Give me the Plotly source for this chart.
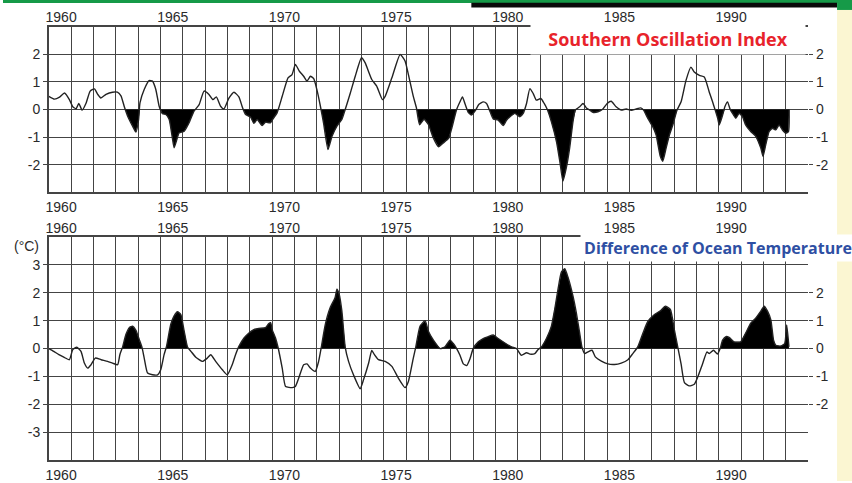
import numpy as np
import plotly.graph_objects as go

# ---------------- data ----------------
soi_years = [1960.0, 1960.25, 1960.48, 1960.7, 1960.92, 1961.07, 1961.22, 1961.34, 1961.49, 1961.67,
             1961.85, 1962.04, 1962.19, 1962.33, 1962.56, 1962.85, 1963.07, 1963.23, 1963.38, 1963.53,
             1963.75, 1963.9, 1964.02, 1964.08, 1964.27, 1964.49, 1964.64, 1964.79, 1964.94, 1965.09,
             1965.24, 1965.39, 1965.53, 1965.61, 1965.71, 1965.83, 1966.06, 1966.28, 1966.5, 1966.73,
             1966.95, 1967.17, 1967.35, 1967.5, 1967.69, 1967.84, 1968.07, 1968.29, 1968.51, 1968.66,
             1968.81, 1969.03, 1969.18, 1969.33, 1969.55, 1969.7, 1969.92, 1970.07, 1970.22, 1970.45,
             1970.71, 1970.89, 1971.04, 1971.22, 1971.41, 1971.56, 1971.71, 1971.86, 1972.0, 1972.16,
             1972.3, 1972.5, 1972.68, 1972.9, 1973.12, 1973.27, 1973.5, 1973.72, 1974.0, 1974.16,
             1974.46, 1974.68, 1974.94, 1975.06, 1975.36, 1975.73, 1975.95, 1976.1, 1976.32, 1976.46,
             1976.6, 1976.8, 1977.0, 1977.2, 1977.45, 1977.65, 1977.9, 1978.05, 1978.26, 1978.41,
             1978.52, 1978.63, 1978.78, 1978.93, 1979.08, 1979.26, 1979.45, 1979.6, 1979.75, 1979.9,
             1980.12, 1980.35, 1980.5, 1980.65, 1980.87, 1981.09, 1981.24, 1981.39, 1981.54, 1981.69,
             1981.83, 1982.03, 1982.18, 1982.33, 1982.5, 1982.73, 1982.88, 1983.02, 1983.17, 1983.32,
             1983.47, 1983.57, 1983.77, 1983.92, 1984.07, 1984.22, 1984.36, 1984.59, 1984.81, 1985.0,
             1985.18, 1985.4, 1985.63, 1985.85, 1986.08, 1986.3, 1986.5, 1986.63, 1986.82, 1987.04,
             1987.19, 1987.38, 1987.49, 1987.64, 1987.79, 1987.94, 1988.13, 1988.31, 1988.53, 1988.75,
             1988.9, 1989.13, 1989.35, 1989.57, 1989.72, 1989.83, 1989.95, 1990.02, 1990.17, 1990.27,
             1990.39, 1990.51, 1990.66, 1990.76, 1990.91, 1991.06, 1991.2, 1991.43, 1991.66, 1991.88,
             1991.98, 1992.1, 1992.25, 1992.4, 1992.55, 1992.7, 1992.85, 1993.0, 1993.12, 1993.15]
soi_values = [0.48, 0.38, 0.45, 0.6, 0.36, 0.1, 0.03, 0.22, -0.02, 0.24,
              0.67, 0.75, 0.55, 0.42, 0.55, 0.63, 0.63, 0.5, 0.1, -0.24,
              -0.6, -0.82, -0.36, 0.24, 0.73, 1.05, 1.03, 0.73, 0.12, -0.15,
              -0.18, -0.36, -1.03, -1.39, -1.15, -0.85, -0.79, -0.48, -0.06, 0.18,
              0.67, 0.55, 0.36, 0.46, 0.12, 0.02, 0.42, 0.63, 0.46, 0.1,
              -0.18, -0.27, -0.5, -0.36, -0.58, -0.46, -0.48, -0.3, -0.12, 0.48,
              1.15, 1.27, 1.64, 1.39, 1.21, 1.03, 1.21, 1.12, 0.73, 0.12,
              -0.48, -1.45, -0.97, -0.6, -0.36, 0.0, 0.6, 1.21, 1.88, 1.7,
              1.09, 0.85, 0.36, 0.48, 1.15, 2.0, 1.76, 1.27, 0.48, 0.06,
              -0.55, -0.35, -0.55, -1.0, -1.35, -1.22, -1.05, -0.65, 0.0, 0.28,
              0.46, 0.22, -0.1, -0.2, -0.06, 0.19, 0.28, 0.22, -0.06, -0.34,
              -0.38, -0.58, -0.38, -0.26, -0.14, -0.26, -0.14, 0.22, 0.76, 0.58,
              0.34, 0.4, 0.22, -0.02, -0.44, -1.16, -1.88, -2.6, -2.12, -1.4,
              -0.44, -0.02, 0.1, 0.22, 0.06, -0.02, -0.1, -0.08, 0.02, 0.22,
              0.3, 0.1, -0.02, 0.02, -0.03, 0.02, 0.06, -0.02, -0.32, -0.62,
              -0.92, -1.7, -1.88, -1.4, -0.92, -0.56, -0.02, 0.28, 1.06, 1.54,
              1.36, 1.24, 1.18, 0.64, 0.28, 0.0, -0.32, -0.56, -0.2, 0.1,
              0.28, 0.0, -0.2, -0.32, -0.14, -0.26, -0.56, -0.8, -0.98, -1.4,
              -1.7, -1.28, -0.8, -0.68, -0.74, -0.56, -0.74, -0.86, -0.8, 0.0]

sst_years = [1960.0, 1960.22, 1960.45, 1960.67, 1960.92, 1961.07, 1961.25, 1961.44, 1961.59, 1961.74,
             1961.89, 1962.08, 1962.34, 1962.63, 1962.85, 1963.08, 1963.18, 1963.3, 1963.45, 1963.6,
             1963.75, 1963.9, 1964.05, 1964.17, 1964.27, 1964.42, 1964.64, 1964.87, 1965.01, 1965.16,
             1965.27, 1965.46, 1965.61, 1965.76, 1965.91, 1966.06, 1966.21, 1966.36, 1966.58, 1966.88,
             1967.1, 1967.25, 1967.47, 1967.77, 1967.99, 1968.21, 1968.36, 1968.51, 1968.74, 1968.96,
             1969.18, 1969.4, 1969.7, 1969.85, 1969.93, 1970.0, 1970.15, 1970.27, 1970.45, 1970.6,
             1970.9, 1971.04, 1971.19, 1971.41, 1971.56, 1971.71, 1971.93, 1972.08, 1972.2, 1972.38,
             1972.6, 1972.82, 1972.9, 1973.0, 1973.12, 1973.27, 1973.42, 1973.64, 1973.94, 1974.09,
             1974.32, 1974.46, 1974.58, 1974.76, 1975.06, 1975.36, 1975.65, 1975.95, 1976.1, 1976.32,
             1976.43, 1976.62, 1976.85, 1977.0, 1977.22, 1977.52, 1977.74, 1977.96, 1978.11, 1978.26,
             1978.41, 1978.56, 1978.71, 1978.86, 1979.0, 1979.23, 1979.45, 1979.68, 1979.9, 1980.12,
             1980.42, 1980.72, 1980.94, 1981.16, 1981.39, 1981.54, 1981.76, 1981.91, 1982.06, 1982.28,
             1982.5, 1982.65, 1982.8, 1982.95, 1983.1, 1983.25, 1983.47, 1983.62, 1983.77, 1983.87,
             1983.99, 1984.14, 1984.32, 1984.47, 1984.74, 1985.03, 1985.33, 1985.63, 1985.93, 1986.15,
             1986.37, 1986.6, 1986.82, 1987.12, 1987.41, 1987.6, 1987.83, 1988.01, 1988.16, 1988.31,
             1988.46, 1988.68, 1988.9, 1989.05, 1989.27, 1989.47, 1989.57, 1989.76, 1989.94, 1990.06,
             1990.17, 1990.32, 1990.46, 1990.68, 1990.98, 1991.2, 1991.43, 1991.66, 1991.88, 1992.03,
             1992.18, 1992.33, 1992.45, 1992.55, 1992.77, 1992.95, 1993.04, 1993.14]
sst_values = [0.0, -0.1, -0.22, -0.31, -0.4, -0.04, 0.05, -0.1, -0.52, -0.7,
              -0.58, -0.34, -0.4, -0.46, -0.52, -0.58, -0.22, 0.05, 0.5, 0.75,
              0.8, 0.65, 0.32, 0.05, -0.34, -0.88, -0.94, -0.94, -0.76, -0.22,
              0.08, 0.87, 1.17, 1.32, 1.22, 0.62, 0.05, -0.1, -0.31, -0.46,
              -0.34, -0.22, -0.46, -0.76, -0.94, -0.58, -0.22, 0.08, 0.38, 0.56,
              0.68, 0.72, 0.75, 0.9, 0.93, 0.68, 0.38, 0.02, -0.7, -1.36,
              -1.4, -1.36, -1.06, -0.58, -0.55, -0.7, -0.82, -0.46, 0.05, 0.87,
              1.47, 1.83, 2.13, 1.95, 1.35, 0.05, -0.46, -0.94, -1.44, -1.12,
              -0.52, -0.07, -0.22, -0.4, -0.46, -0.64, -1.06, -1.4, -1.18, -0.34,
              0.05, 0.8, 1.0, 0.61, 0.3, 0.0, 0.06, 0.3, 0.18, 0.0,
              -0.24, -0.55, -0.61, -0.36, 0.0, 0.24, 0.36, 0.43, 0.49, 0.36,
              0.2, 0.06, 0.0, -0.24, -0.15, -0.2, -0.18, -0.03, 0.06, 0.36,
              0.79, 1.4, 2.13, 2.74, 2.86, 2.55, 1.88, 1.28, 0.55, 0.06,
              -0.18, -0.12, -0.06, -0.3, -0.45, -0.55, -0.57, -0.52, -0.4, -0.18,
              0.06, 0.55, 0.97, 1.22, 1.37, 1.52, 1.4, 0.67, 0.06, -0.55,
              -1.22, -1.34, -1.28, -1.03, -0.55, -0.12, -0.18, -0.06, -0.2, 0.0,
              0.3, 0.43, 0.4, 0.24, 0.24, 0.55, 0.91, 1.1, 1.34, 1.52,
              1.34, 1.03, 0.3, 0.12, 0.09, 0.18, 0.85, 0.06]

year_labels = ["1960", "1965", "1970", "1975", "1980", "1985", "1990"]
label_years = [1960, 1965, 1970, 1975, 1980, 1985, 1990]
grid_years = list(range(1960, 1995))
soi_ticks = [-2, -1, 0, 1, 2]
sst_ticks_left = [-3, -2, -1, 0, 1, 2, 3]
sst_ticks_right = [-2, -1, 0, 1, 2]


def clipped(xs, ys, positive):
    """Return series clipped to one side of zero, with zero crossings inserted."""
    xs = np.asarray(xs, float)
    ys = np.asarray(ys, float)
    ox, oy = [], []
    for i in range(len(xs)):
        if i > 0 and (ys[i - 1] * ys[i] < 0):
            t = ys[i - 1] / (ys[i - 1] - ys[i])
            ox.append(xs[i - 1] + t * (xs[i] - xs[i - 1]))
            oy.append(0.0)
        ox.append(xs[i])
        oy.append(max(ys[i], 0.0) if positive else min(ys[i], 0.0))
    return ox, oy


W, H = 852, 483
L, R = 46, 808
px = lambda v: v / W
py = lambda v: 1 - v / H

ink = "#222222"
grid = "#444444"
font_num = dict(family="Liberation Sans", size=14, color="#2a2a2a")

fig = go.Figure()

sx, sy = clipped(soi_years, soi_values, positive=False)
fig.add_trace(go.Scatter(x=sx, y=sy, mode="lines", line=dict(width=0, color="black"),
                         fill="tozeroy", fillcolor="black", xaxis="x", yaxis="y",
                         hoverinfo="skip", showlegend=False))
fig.add_trace(go.Scatter(x=soi_years, y=soi_values, mode="lines",
                         line=dict(color=ink, width=1.4, shape="spline", smoothing=0.5),
                         xaxis="x", yaxis="y", showlegend=False))

tx, ty = clipped(sst_years, sst_values, positive=True)
fig.add_trace(go.Scatter(x=tx, y=ty, mode="lines", line=dict(width=0, color="black"),
                         fill="tozeroy", fillcolor="black", xaxis="x2", yaxis="y3",
                         hoverinfo="skip", showlegend=False))
fig.add_trace(go.Scatter(x=sst_years, y=sst_values, mode="lines",
                         line=dict(color=ink, width=1.4, shape="spline", smoothing=0.5),
                         xaxis="x2", yaxis="y3", showlegend=False))
# invisible anchors so the secondary axes render
for xa, ya in (("x", "y2"), ("x2", "y4"), ("x3", "y"), ("x4", "y3")):
    fig.add_trace(go.Scatter(x=[1960], y=[0], mode="markers", marker=dict(opacity=0),
                             xaxis=xa, yaxis=ya, hoverinfo="skip", showlegend=False))

label_pos = [y + 0.55 for y in label_years]
xcommon = dict(range=[1960, 1994], tickmode="array", tickvals=label_pos, ticktext=year_labels,
               showgrid=False, zeroline=False, ticks="", tickfont=font_num,
               showline=True, linecolor=grid, linewidth=1.6, mirror=True,
               minor=dict(tickmode="array", tickvals=grid_years, showgrid=True,
                          gridcolor=grid, gridwidth=1.4, ticks=""))

top_dom = [py(193), py(27)]
bot_dom = [py(462), py(238)]

ycommon = dict(showgrid=False, zeroline=False, ticks="outside", ticklen=4, tickcolor=grid,
               tickfont=font_num)

fig.update_layout(
    width=W, height=H, margin=dict(l=0, r=0, t=0, b=0),
    paper_bgcolor="white", plot_bgcolor="white",
    xaxis=dict(domain=[px(L), px(R)], anchor="y", side="bottom", ticklabelstandoff=1, **xcommon),
    xaxis3=dict(domain=[px(L), px(R)], anchor="y", overlaying="x", side="top",
                ticklabelstandoff=-3, **xcommon),
    xaxis2=dict(domain=[px(L), px(R)], anchor="y3", side="bottom", ticklabelstandoff=1, **xcommon),
    xaxis4=dict(domain=[px(L), px(R)], anchor="y3", overlaying="x2", side="top",
                ticklabelstandoff=-3, **xcommon),
    yaxis=dict(domain=top_dom, range=[-3, 3], tickmode="array", tickvals=soi_ticks,
               ticktext=[str(v) for v in soi_ticks], anchor="x", side="left",
               showline=True, linecolor=grid, linewidth=1.6,
               minor=dict(tickmode="array", tickvals=[-3, -2, -1, 0, 1, 2, 3], showgrid=True,
                          gridcolor=grid, gridwidth=1.4, ticks=""), **ycommon),
    yaxis2=dict(domain=top_dom, range=[-3, 3], tickmode="array", tickvals=soi_ticks,
                ticktext=[str(v) for v in soi_ticks], anchor="x", overlaying="y", side="right",
                showline=False, **ycommon),
    yaxis3=dict(domain=bot_dom, range=[-4, 4], tickmode="array", tickvals=sst_ticks_left,
                ticktext=[str(v) for v in sst_ticks_left], anchor="x2", side="left",
                showline=True, linecolor=grid, linewidth=1.6,
                minor=dict(tickmode="array", tickvals=list(range(-4, 5)), showgrid=True,
                           gridcolor=grid, gridwidth=1.4, ticks=""), **ycommon),
    yaxis4=dict(domain=bot_dom, range=[-4, 4], tickmode="array", tickvals=sst_ticks_right,
                ticktext=[str(v) for v in sst_ticks_right], anchor="x2", overlaying="y3",
                side="right", showline=False, **ycommon),
    shapes=[
        dict(type="rect", xref="paper", yref="paper", x0=0, x1=1, y0=py(3), y1=1,
             fillcolor="#169a48", line=dict(width=0), layer="above"),
        dict(type="rect", xref="paper", yref="paper", x0=px(470), x1=px(837), y0=py(7.5), y1=py(2.7),
             fillcolor="#0a0a0a", line=dict(width=0), layer="above"),
        dict(type="rect", xref="paper", yref="paper", x0=px(837), x1=1, y0=py(10), y1=1,
             fillcolor="#169a48", line=dict(width=0), layer="above"),
        dict(type="rect", xref="paper", yref="paper", x0=px(837), x1=1, y0=0, y1=py(10),
             fillcolor="#fbf6d2", line=dict(width=0), layer="above"),
    ],
    annotations=[
        dict(text="<b>Southern Oscillation Index</b>", xref="paper", yref="paper",
             x=px(667), y=py(39), xanchor="center", yanchor="middle", showarrow=False,
             font=dict(family="Open Sans", size=18, color="#e8232b"),
             bgcolor="white", borderpad=3, width=268, height=24),
        dict(text="<b>Difference of Ocean Temperature</b>", xref="paper", yref="paper",
             x=px(718), y=py(249), xanchor="center", yanchor="middle", showarrow=False,
             font=dict(family="Open Sans", size=16, color="#2e4fa3"),
             bgcolor="white", borderpad=2, width=270, height=22),
        dict(text="(°C)", xref="paper", yref="paper", x=px(24), y=py(247),
             xanchor="center", yanchor="middle", showarrow=False, font=font_num),
    ],
)

fig.write_html("out.html")
